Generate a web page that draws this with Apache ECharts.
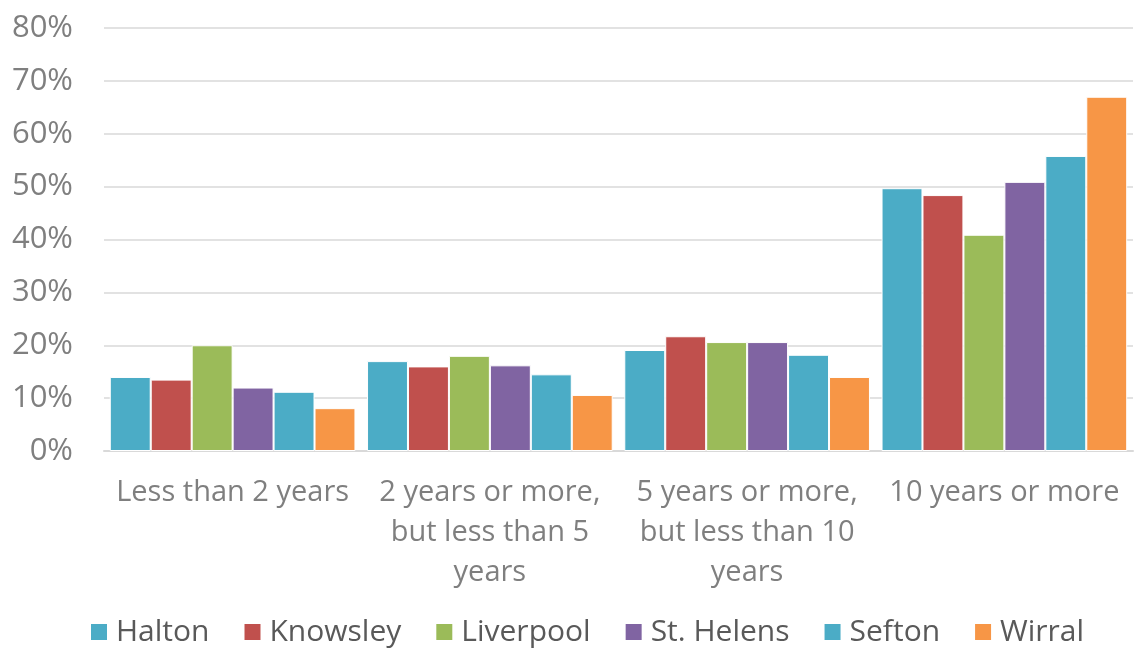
<!DOCTYPE html>
<html>
<head>
<meta charset="utf-8">
<script src="https://cdn.jsdelivr.net/npm/echarts@6/dist/echarts.min.js"></script>
<style>
  html, body { margin: 0; padding: 0; background: #fff; }
  #chart { width: 1140px; height: 656px; }
</style>
</head>
<body>
<div id="chart"></div>
<script>
// categories (x axis)
var categories = [
    'Less than 2 years',
    '2 years or more,\nbut less than 5\nyears',
    '5 years or more,\nbut less than 10\nyears',
    '10 years or more'
];

// values, in %
var halton    = [14.0, 17.0, 19.1, 49.7];
var knowsley  = [13.5, 16.0, 21.7, 48.4];
var liverpool = [20.0, 18.0, 20.6, 40.9];
var stHelens  = [12.0, 16.2, 20.6, 50.9];
var sefton    = [11.2, 14.5, 18.2, 55.8];
var wirral    = [8.1, 10.6, 14.0, 67.0];

var seriesNames = ['Halton', 'Knowsley', 'Liverpool', 'St. Helens', 'Sefton', 'Wirral'];
var seriesData = [halton, knowsley, liverpool, stHelens, sefton, wirral];
var colors = ['#4BACC6', '#C0504D', '#9BBB59', '#8064A2', '#4BACC6', '#F79646'];

var font = '"Open Sans", "Noto Sans", sans-serif';

var myChart = echarts.init(document.getElementById('chart'));

myChart.setOption({
    animation: false,
    color: colors,
    textStyle: { fontFamily: font },
    grid: {
        left: 104,
        right: 7,
        top: 28,
        bottom: 205,
        containLabel: false
    },
    legend: {
        bottom: 4,
        left: 84,
        itemWidth: 18,
        itemHeight: 18,
        itemGap: 33,
        icon: 'rect',
        textStyle: {
            fontSize: 30,
            color: '#595959',
            fontFamily: font,
            padding: [0, 0, 0, 3]
        },
        data: seriesNames
    },
    xAxis: {
        type: 'category',
        data: categories,
        axisTick: { show: false },
        axisLine: { lineStyle: { color: '#d9d9d9', width: 2 } },
        axisLabel: {
            color: '#7f7f7f',
            fontSize: 29,
            lineHeight: 40,
            margin: 22,
            interval: 0,
            align: 'center'
        }
    },
    yAxis: {
        type: 'value',
        min: 0,
        max: 80,
        interval: 10,
        axisLine: { show: false },
        axisTick: { show: false },
        splitLine: { lineStyle: { color: '#d9d9d9', width: 1.5 } },
        axisLabel: {
            color: '#7f7f7f',
            fontSize: 31,
            margin: 31,
            formatter: '{value}%'
        }
    },
    series: seriesNames.map(function (name, i) {
        return {
            name: name,
            type: 'bar',
            data: seriesData[i],
            barGap: '0%',
            barCategoryGap: '4.5%',
            itemStyle: { borderColor: '#fff', borderWidth: 1 }
        };
    })
});
</script>
</body>
</html>
